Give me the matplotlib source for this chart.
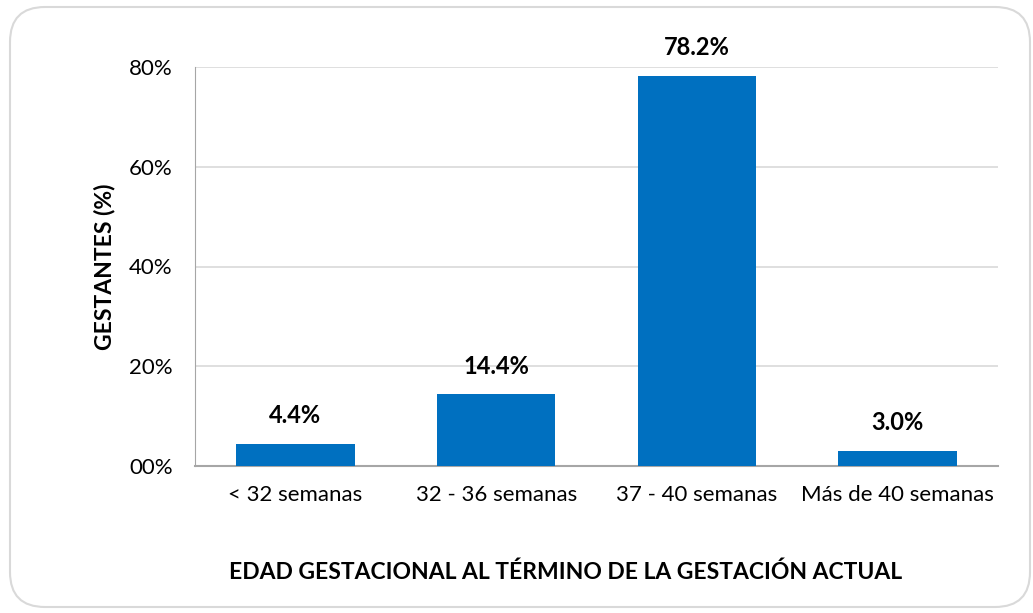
import matplotlib.pyplot as plt
from matplotlib.patches import FancyBboxPatch
from matplotlib.ticker import FuncFormatter

categorias = ["< 32 semanas", "32 - 36 semanas", "37 - 40 semanas", "Más de 40 semanas"]
porcentajes = [4.4, 14.4, 78.2, 3.0]
yticks = [0, 20, 40, 60, 80]

plt.rcParams['font.family'] = ['Lato', 'DejaVu Sans']

W, H = 1033, 613
fig = plt.figure(figsize=(W / 100, H / 100), dpi=100)

# marco redondeado del grafico
marco = FancyBboxPatch((10 / W, 6 / H), 1020 / W, 600 / H,
                       boxstyle=f"round,pad=0,rounding_size={35 / W}",
                       mutation_aspect=W / H,
                       transform=fig.transFigure, facecolor='white',
                       edgecolor='#D9D9D9', linewidth=1.5, zorder=-10)
fig.patches.append(marco)

ax = fig.add_axes([195 / W, (H - 466) / H, (998 - 195) / W, (466 - 67) / H])
ax.set_facecolor('none')

x = range(len(categorias))
ax.bar(x, porcentajes, width=0.59, color='#0070C0', zorder=3)

for xi, v in zip(x, porcentajes):
    ax.annotate(f"{v:.1f}%", (xi, v), xytext=(0, 12), textcoords='offset points',
                ha='center', va='bottom', fontsize=17, fontweight='bold')

ax.set_xlim(-0.5, len(categorias) - 0.5)
ax.set_ylim(0, 80)
ax.set_yticks(yticks)
ax.yaxis.set_major_formatter(FuncFormatter(lambda v, p: f"{int(v):02d}%"))
ax.set_xticks(list(x))
ax.set_xticklabels(categorias)
ax.tick_params(axis='both', length=0, labelsize=16)
ax.tick_params(axis='y', pad=16)
ax.tick_params(axis='x', pad=14)

ax.grid(axis='y', color='#D9D9D9', linewidth=1.2, zorder=0)
for s in ['top', 'right']:
    ax.spines[s].set_visible(False)
ax.spines['left'].set_color('#A6A6A6')
ax.spines['bottom'].set_color('#A6A6A6')
ax.spines['bottom'].set_linewidth(1.5)

ax.set_ylabel("GESTANTES (%)", fontsize=16.5, fontweight='bold', labelpad=10)
xl = ax.set_xlabel("EDAD GESTACIONAL AL TÉRMINO DE LA GESTACIÓN ACTUAL",
                   fontsize=16.5, fontweight='bold', va='center')
ax.xaxis.set_label_coords(0.461, -0.266)

fig.savefig("out.png", dpi=100)
